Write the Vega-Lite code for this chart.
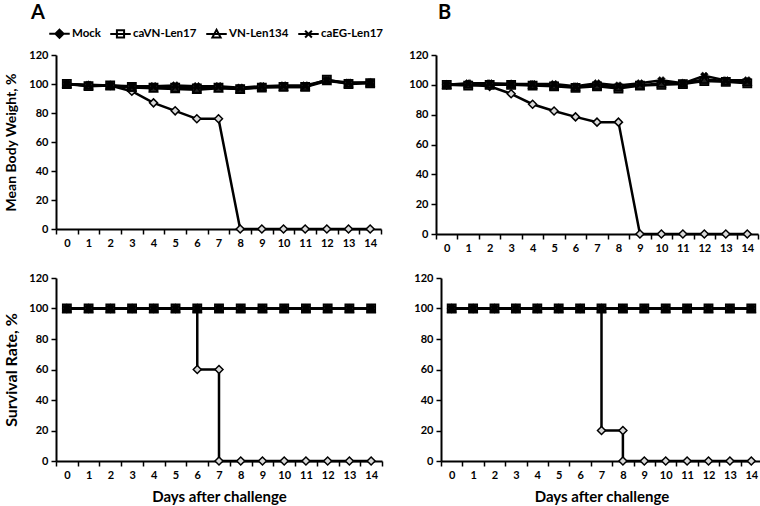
{
  "$schema": "https://vega.github.io/schema/vega-lite/v6.json",
  "background": "white",
  "padding": {"left": 3, "top": 3, "right": 2, "bottom": 2},
  "config": {
    "font": "Lato",
    "view": {"stroke": null},
    "axis": {
      "labelFont": "Lato", "labelFontWeight": "bold", "labelFontSize": 11, "labelColor": "black",
      "domainColor": "black", "domainWidth": 2, "tickColor": "black", "tickWidth": 1.5, "tickSize": 5,
      "grid": false, "titleFont": "Lato", "titleFontWeight": "bold", "titleColor": "black", "titleFontSize": 15,
      "labelPadding": 3
    },
    "legend": {
      "title": null, "orient": "none", "legendX": -8, "legendY": -33, "direction": "horizontal", "columns": 4, "gridAlign": "each",
      "symbolSize": 420, "symbolStrokeWidth": 2, "symbolStrokeColor": "black", "symbolOpacity": 1,
      "labelFont": "Lato", "labelFontSize": 11.5, "labelFontWeight": "bold", "labelColor": "black", "labelOffset": 1, "columnPadding": 5
    },
    "title": {"font": "Lato", "fontWeight": "bold", "fontSize": 20, "color": "black", "anchor": "start", "frame": "group"}
  },
  "datasets": {
    "weight": [
      {"panel":"A","series":"Mock","day":0,"value":100},{"panel":"A","series":"Mock","day":1,"value":99},{"panel":"A","series":"Mock","day":2,"value":99},{"panel":"A","series":"Mock","day":3,"value":95},{"panel":"A","series":"Mock","day":4,"value":87},{"panel":"A","series":"Mock","day":5,"value":81.5},{"panel":"A","series":"Mock","day":6,"value":76},{"panel":"A","series":"Mock","day":7,"value":76},{"panel":"A","series":"Mock","day":8,"value":0},{"panel":"A","series":"Mock","day":9,"value":0},{"panel":"A","series":"Mock","day":10,"value":0},{"panel":"A","series":"Mock","day":11,"value":0},{"panel":"A","series":"Mock","day":12,"value":0},{"panel":"A","series":"Mock","day":13,"value":0},{"panel":"A","series":"Mock","day":14,"value":0},
      {"panel":"A","series":"caVN-Len17","day":0,"value":100},{"panel":"A","series":"caVN-Len17","day":1,"value":98.5},{"panel":"A","series":"caVN-Len17","day":2,"value":99},{"panel":"A","series":"caVN-Len17","day":3,"value":98},{"panel":"A","series":"caVN-Len17","day":4,"value":97.5},{"panel":"A","series":"caVN-Len17","day":5,"value":97.5},{"panel":"A","series":"caVN-Len17","day":6,"value":97},{"panel":"A","series":"caVN-Len17","day":7,"value":97.5},{"panel":"A","series":"caVN-Len17","day":8,"value":96.5},{"panel":"A","series":"caVN-Len17","day":9,"value":97.5},{"panel":"A","series":"caVN-Len17","day":10,"value":98},{"panel":"A","series":"caVN-Len17","day":11,"value":98},{"panel":"A","series":"caVN-Len17","day":12,"value":103},{"panel":"A","series":"caVN-Len17","day":13,"value":100},{"panel":"A","series":"caVN-Len17","day":14,"value":100.5},
      {"panel":"A","series":"VN-Len134","day":0,"value":100},{"panel":"A","series":"VN-Len134","day":1,"value":99},{"panel":"A","series":"VN-Len134","day":2,"value":99},{"panel":"A","series":"VN-Len134","day":3,"value":97.5},{"panel":"A","series":"VN-Len134","day":4,"value":97},{"panel":"A","series":"VN-Len134","day":5,"value":96.5},{"panel":"A","series":"VN-Len134","day":6,"value":96},{"panel":"A","series":"VN-Len134","day":7,"value":97},{"panel":"A","series":"VN-Len134","day":8,"value":96.5},{"panel":"A","series":"VN-Len134","day":9,"value":98},{"panel":"A","series":"VN-Len134","day":10,"value":98},{"panel":"A","series":"VN-Len134","day":11,"value":98},{"panel":"A","series":"VN-Len134","day":12,"value":102},{"panel":"A","series":"VN-Len134","day":13,"value":100.5},{"panel":"A","series":"VN-Len134","day":14,"value":101},
      {"panel":"A","series":"caEG-Len17","day":0,"value":100},{"panel":"A","series":"caEG-Len17","day":1,"value":99.5},{"panel":"A","series":"caEG-Len17","day":2,"value":99},{"panel":"A","series":"caEG-Len17","day":3,"value":98.5},{"panel":"A","series":"caEG-Len17","day":4,"value":98.5},{"panel":"A","series":"caEG-Len17","day":5,"value":99},{"panel":"A","series":"caEG-Len17","day":6,"value":98.5},{"panel":"A","series":"caEG-Len17","day":7,"value":98.5},{"panel":"A","series":"caEG-Len17","day":8,"value":97.5},{"panel":"A","series":"caEG-Len17","day":9,"value":98.5},{"panel":"A","series":"caEG-Len17","day":10,"value":99},{"panel":"A","series":"caEG-Len17","day":11,"value":99},{"panel":"A","series":"caEG-Len17","day":12,"value":102.5},{"panel":"A","series":"caEG-Len17","day":13,"value":101},{"panel":"A","series":"caEG-Len17","day":14,"value":101},
      {"panel":"B","series":"Mock","day":0,"value":100},{"panel":"B","series":"Mock","day":1,"value":100},{"panel":"B","series":"Mock","day":2,"value":99},{"panel":"B","series":"Mock","day":3,"value":94},{"panel":"B","series":"Mock","day":4,"value":87},{"panel":"B","series":"Mock","day":5,"value":82.5},{"panel":"B","series":"Mock","day":6,"value":78.5},{"panel":"B","series":"Mock","day":7,"value":75},{"panel":"B","series":"Mock","day":8,"value":75},{"panel":"B","series":"Mock","day":9,"value":0},{"panel":"B","series":"Mock","day":10,"value":0},{"panel":"B","series":"Mock","day":11,"value":0},{"panel":"B","series":"Mock","day":12,"value":0},{"panel":"B","series":"Mock","day":13,"value":0},{"panel":"B","series":"Mock","day":14,"value":0},
      {"panel":"B","series":"caVN-Len17","day":0,"value":100},{"panel":"B","series":"caVN-Len17","day":1,"value":99.5},{"panel":"B","series":"caVN-Len17","day":2,"value":100},{"panel":"B","series":"caVN-Len17","day":3,"value":100},{"panel":"B","series":"caVN-Len17","day":4,"value":99.5},{"panel":"B","series":"caVN-Len17","day":5,"value":99},{"panel":"B","series":"caVN-Len17","day":6,"value":98},{"panel":"B","series":"caVN-Len17","day":7,"value":99},{"panel":"B","series":"caVN-Len17","day":8,"value":97.5},{"panel":"B","series":"caVN-Len17","day":9,"value":99.5},{"panel":"B","series":"caVN-Len17","day":10,"value":100},{"panel":"B","series":"caVN-Len17","day":11,"value":100.5},{"panel":"B","series":"caVN-Len17","day":12,"value":102.5},{"panel":"B","series":"caVN-Len17","day":13,"value":102},{"panel":"B","series":"caVN-Len17","day":14,"value":101},
      {"panel":"B","series":"VN-Len134","day":0,"value":100},{"panel":"B","series":"VN-Len134","day":1,"value":100.5},{"panel":"B","series":"VN-Len134","day":2,"value":100.5},{"panel":"B","series":"VN-Len134","day":3,"value":100.5},{"panel":"B","series":"VN-Len134","day":4,"value":100},{"panel":"B","series":"VN-Len134","day":5,"value":99.5},{"panel":"B","series":"VN-Len134","day":6,"value":98.5},{"panel":"B","series":"VN-Len134","day":7,"value":99.5},{"panel":"B","series":"VN-Len134","day":8,"value":98.5},{"panel":"B","series":"VN-Len134","day":9,"value":99.5},{"panel":"B","series":"VN-Len134","day":10,"value":101},{"panel":"B","series":"VN-Len134","day":11,"value":101},{"panel":"B","series":"VN-Len134","day":12,"value":103.5},{"panel":"B","series":"VN-Len134","day":13,"value":102.5},{"panel":"B","series":"VN-Len134","day":14,"value":102},
      {"panel":"B","series":"caEG-Len17","day":0,"value":100},{"panel":"B","series":"caEG-Len17","day":1,"value":101},{"panel":"B","series":"caEG-Len17","day":2,"value":101},{"panel":"B","series":"caEG-Len17","day":3,"value":100.5},{"panel":"B","series":"caEG-Len17","day":4,"value":100.5},{"panel":"B","series":"caEG-Len17","day":5,"value":100.5},{"panel":"B","series":"caEG-Len17","day":6,"value":99},{"panel":"B","series":"caEG-Len17","day":7,"value":101},{"panel":"B","series":"caEG-Len17","day":8,"value":99.5},{"panel":"B","series":"caEG-Len17","day":9,"value":101},{"panel":"B","series":"caEG-Len17","day":10,"value":103},{"panel":"B","series":"caEG-Len17","day":11,"value":101},{"panel":"B","series":"caEG-Len17","day":12,"value":106},{"panel":"B","series":"caEG-Len17","day":13,"value":103},{"panel":"B","series":"caEG-Len17","day":14,"value":103}
    ],
    "survival": [
      {"panel":"A","series":"Mock","step":0,"day":0,"value":100},{"panel":"A","series":"Mock","step":1,"day":1,"value":100},{"panel":"A","series":"Mock","step":2,"day":2,"value":100},{"panel":"A","series":"Mock","step":3,"day":3,"value":100},{"panel":"A","series":"Mock","step":4,"day":4,"value":100},{"panel":"A","series":"Mock","step":5,"day":5,"value":100},{"panel":"A","series":"Mock","step":6,"day":6,"value":100},{"panel":"A","series":"Mock","step":7,"day":6,"value":60},{"panel":"A","series":"Mock","step":8,"day":7,"value":60},{"panel":"A","series":"Mock","step":9,"day":7,"value":0},{"panel":"A","series":"Mock","step":10,"day":8,"value":0},{"panel":"A","series":"Mock","step":11,"day":9,"value":0},{"panel":"A","series":"Mock","step":12,"day":10,"value":0},{"panel":"A","series":"Mock","step":13,"day":11,"value":0},{"panel":"A","series":"Mock","step":14,"day":12,"value":0},{"panel":"A","series":"Mock","step":15,"day":13,"value":0},{"panel":"A","series":"Mock","step":16,"day":14,"value":0},
      {"panel":"A","series":"caVN-Len17","step":0,"day":0,"value":100},{"panel":"A","series":"caVN-Len17","step":1,"day":1,"value":100},{"panel":"A","series":"caVN-Len17","step":2,"day":2,"value":100},{"panel":"A","series":"caVN-Len17","step":3,"day":3,"value":100},{"panel":"A","series":"caVN-Len17","step":4,"day":4,"value":100},{"panel":"A","series":"caVN-Len17","step":5,"day":5,"value":100},{"panel":"A","series":"caVN-Len17","step":6,"day":6,"value":100},{"panel":"A","series":"caVN-Len17","step":7,"day":7,"value":100},{"panel":"A","series":"caVN-Len17","step":8,"day":8,"value":100},{"panel":"A","series":"caVN-Len17","step":9,"day":9,"value":100},{"panel":"A","series":"caVN-Len17","step":10,"day":10,"value":100},{"panel":"A","series":"caVN-Len17","step":11,"day":11,"value":100},{"panel":"A","series":"caVN-Len17","step":12,"day":12,"value":100},{"panel":"A","series":"caVN-Len17","step":13,"day":13,"value":100},{"panel":"A","series":"caVN-Len17","step":14,"day":14,"value":100},
      {"panel":"A","series":"VN-Len134","step":0,"day":0,"value":100},{"panel":"A","series":"VN-Len134","step":1,"day":1,"value":100},{"panel":"A","series":"VN-Len134","step":2,"day":2,"value":100},{"panel":"A","series":"VN-Len134","step":3,"day":3,"value":100},{"panel":"A","series":"VN-Len134","step":4,"day":4,"value":100},{"panel":"A","series":"VN-Len134","step":5,"day":5,"value":100},{"panel":"A","series":"VN-Len134","step":6,"day":6,"value":100},{"panel":"A","series":"VN-Len134","step":7,"day":7,"value":100},{"panel":"A","series":"VN-Len134","step":8,"day":8,"value":100},{"panel":"A","series":"VN-Len134","step":9,"day":9,"value":100},{"panel":"A","series":"VN-Len134","step":10,"day":10,"value":100},{"panel":"A","series":"VN-Len134","step":11,"day":11,"value":100},{"panel":"A","series":"VN-Len134","step":12,"day":12,"value":100},{"panel":"A","series":"VN-Len134","step":13,"day":13,"value":100},{"panel":"A","series":"VN-Len134","step":14,"day":14,"value":100},
      {"panel":"A","series":"caEG-Len17","step":0,"day":0,"value":100},{"panel":"A","series":"caEG-Len17","step":1,"day":1,"value":100},{"panel":"A","series":"caEG-Len17","step":2,"day":2,"value":100},{"panel":"A","series":"caEG-Len17","step":3,"day":3,"value":100},{"panel":"A","series":"caEG-Len17","step":4,"day":4,"value":100},{"panel":"A","series":"caEG-Len17","step":5,"day":5,"value":100},{"panel":"A","series":"caEG-Len17","step":6,"day":6,"value":100},{"panel":"A","series":"caEG-Len17","step":7,"day":7,"value":100},{"panel":"A","series":"caEG-Len17","step":8,"day":8,"value":100},{"panel":"A","series":"caEG-Len17","step":9,"day":9,"value":100},{"panel":"A","series":"caEG-Len17","step":10,"day":10,"value":100},{"panel":"A","series":"caEG-Len17","step":11,"day":11,"value":100},{"panel":"A","series":"caEG-Len17","step":12,"day":12,"value":100},{"panel":"A","series":"caEG-Len17","step":13,"day":13,"value":100},{"panel":"A","series":"caEG-Len17","step":14,"day":14,"value":100},
      {"panel":"B","series":"Mock","step":0,"day":0,"value":100},{"panel":"B","series":"Mock","step":1,"day":1,"value":100},{"panel":"B","series":"Mock","step":2,"day":2,"value":100},{"panel":"B","series":"Mock","step":3,"day":3,"value":100},{"panel":"B","series":"Mock","step":4,"day":4,"value":100},{"panel":"B","series":"Mock","step":5,"day":5,"value":100},{"panel":"B","series":"Mock","step":6,"day":6,"value":100},{"panel":"B","series":"Mock","step":7,"day":7,"value":100},{"panel":"B","series":"Mock","step":8,"day":7,"value":20},{"panel":"B","series":"Mock","step":9,"day":8,"value":20},{"panel":"B","series":"Mock","step":10,"day":8,"value":0},{"panel":"B","series":"Mock","step":11,"day":9,"value":0},{"panel":"B","series":"Mock","step":12,"day":10,"value":0},{"panel":"B","series":"Mock","step":13,"day":11,"value":0},{"panel":"B","series":"Mock","step":14,"day":12,"value":0},{"panel":"B","series":"Mock","step":15,"day":13,"value":0},{"panel":"B","series":"Mock","step":16,"day":14,"value":0},
      {"panel":"B","series":"caVN-Len17","step":0,"day":0,"value":100},{"panel":"B","series":"caVN-Len17","step":1,"day":1,"value":100},{"panel":"B","series":"caVN-Len17","step":2,"day":2,"value":100},{"panel":"B","series":"caVN-Len17","step":3,"day":3,"value":100},{"panel":"B","series":"caVN-Len17","step":4,"day":4,"value":100},{"panel":"B","series":"caVN-Len17","step":5,"day":5,"value":100},{"panel":"B","series":"caVN-Len17","step":6,"day":6,"value":100},{"panel":"B","series":"caVN-Len17","step":7,"day":7,"value":100},{"panel":"B","series":"caVN-Len17","step":8,"day":8,"value":100},{"panel":"B","series":"caVN-Len17","step":9,"day":9,"value":100},{"panel":"B","series":"caVN-Len17","step":10,"day":10,"value":100},{"panel":"B","series":"caVN-Len17","step":11,"day":11,"value":100},{"panel":"B","series":"caVN-Len17","step":12,"day":12,"value":100},{"panel":"B","series":"caVN-Len17","step":13,"day":13,"value":100},{"panel":"B","series":"caVN-Len17","step":14,"day":14,"value":100},
      {"panel":"B","series":"VN-Len134","step":0,"day":0,"value":100},{"panel":"B","series":"VN-Len134","step":1,"day":1,"value":100},{"panel":"B","series":"VN-Len134","step":2,"day":2,"value":100},{"panel":"B","series":"VN-Len134","step":3,"day":3,"value":100},{"panel":"B","series":"VN-Len134","step":4,"day":4,"value":100},{"panel":"B","series":"VN-Len134","step":5,"day":5,"value":100},{"panel":"B","series":"VN-Len134","step":6,"day":6,"value":100},{"panel":"B","series":"VN-Len134","step":7,"day":7,"value":100},{"panel":"B","series":"VN-Len134","step":8,"day":8,"value":100},{"panel":"B","series":"VN-Len134","step":9,"day":9,"value":100},{"panel":"B","series":"VN-Len134","step":10,"day":10,"value":100},{"panel":"B","series":"VN-Len134","step":11,"day":11,"value":100},{"panel":"B","series":"VN-Len134","step":12,"day":12,"value":100},{"panel":"B","series":"VN-Len134","step":13,"day":13,"value":100},{"panel":"B","series":"VN-Len134","step":14,"day":14,"value":100},
      {"panel":"B","series":"caEG-Len17","step":0,"day":0,"value":100},{"panel":"B","series":"caEG-Len17","step":1,"day":1,"value":100},{"panel":"B","series":"caEG-Len17","step":2,"day":2,"value":100},{"panel":"B","series":"caEG-Len17","step":3,"day":3,"value":100},{"panel":"B","series":"caEG-Len17","step":4,"day":4,"value":100},{"panel":"B","series":"caEG-Len17","step":5,"day":5,"value":100},{"panel":"B","series":"caEG-Len17","step":6,"day":6,"value":100},{"panel":"B","series":"caEG-Len17","step":7,"day":7,"value":100},{"panel":"B","series":"caEG-Len17","step":8,"day":8,"value":100},{"panel":"B","series":"caEG-Len17","step":9,"day":9,"value":100},{"panel":"B","series":"caEG-Len17","step":10,"day":10,"value":100},{"panel":"B","series":"caEG-Len17","step":11,"day":11,"value":100},{"panel":"B","series":"caEG-Len17","step":12,"day":12,"value":100},{"panel":"B","series":"caEG-Len17","step":13,"day":13,"value":100},{"panel":"B","series":"caEG-Len17","step":14,"day":14,"value":100}
    ]
  },
  "spacing": 19,
  "vconcat": [
    {
      "spacing": 26,
      "hconcat": [
        {
          "width": 325, "height": 174,
          "title": {"text": "A", "dx": -25, "offset": 26},
          "data": {"name": "weight"},
          "transform": [{"filter": "datum.panel === 'A'"}],
          "encoding": {
            "x": {"field": "day", "type": "ordinal", "scale": {"type": "band", "paddingInner": 0, "paddingOuter": 0}, "axis": {"title": null, "labelAngle": 0, "tickBand": "extent"}},
            "y": {"field": "value", "type": "quantitative", "scale": {"domain": [0, 120], "nice": false}, "axis": {"values": [0, 20, 40, 60, 80, 100, 120], "title": "Mean Body Weight, %", "titleFontSize": 14, "titlePadding": 10}}
          },
          "layer": [
            {
              "mark": {"type": "point", "filled": true, "size": 420, "opacity": 0},
              "encoding": {
                "shape": {"field": "series", "type": "nominal", "scale": {"domain": ["Mock", "caVN-Len17", "VN-Len134", "caEG-Len17"], "range": ["M-1,0H1M0,-0.4L0.4,0L0,0.4L-0.4,0Z", "M-1,0H1M-0.35,-0.35H0.35V0.35H-0.35Z", "M-1,0H1M0,-0.42L0.4,0.32H-0.4Z", "M-1,0H1M-0.33,-0.33L0.33,0.33M-0.33,0.33L0.33,-0.33"]}},
                "fill": {"field": "series", "type": "nominal", "scale": {"domain": ["Mock", "caVN-Len17", "VN-Len134", "caEG-Len17"], "range": ["black", "white", "white", "black"]}},
                "stroke": {"field": "series", "type": "nominal", "scale": {"domain": ["Mock", "caVN-Len17", "VN-Len134", "caEG-Len17"], "range": ["black", "black", "black", "black"]}}
              }
            },
            {"mark": {"type": "line", "color": "black", "strokeWidth": 2.5}, "encoding": {"detail": {"field": "series"}, "order": {"field": "day"}}},
            {"transform": [{"filter": "datum.series === 'Mock'"}], "mark": {"type": "point", "shape": "diamond", "filled": true, "fill": "#d9d9d9", "stroke": "black", "strokeWidth": 1.5, "size": 64, "opacity": 1}},
            {"transform": [{"filter": "datum.series === 'caVN-Len17'"}], "mark": {"type": "point", "shape": "square", "filled": true, "fill": "#222", "stroke": "black", "strokeWidth": 1.5, "size": 70, "opacity": 1}},
            {"transform": [{"filter": "datum.series === 'VN-Len134'"}], "mark": {"type": "point", "shape": "triangle-up", "filled": false, "stroke": "black", "strokeWidth": 1.5, "size": 60, "opacity": 1}},
            {"transform": [{"filter": "datum.series === 'caEG-Len17'"}], "mark": {"type": "point", "shape": "cross", "angle": 45, "filled": true, "fill": "black", "stroke": "black", "strokeWidth": 0.5, "size": 60, "opacity": 1}}
          ]
        },
        {
          "width": 322, "height": 179,
          "title": {"text": "B", "dx": 2, "offset": 26},
          "data": {"name": "weight"},
          "transform": [{"filter": "datum.panel === 'B'"}],
          "encoding": {
            "x": {"field": "day", "type": "ordinal", "scale": {"type": "band", "paddingInner": 0, "paddingOuter": 0}, "axis": {"title": null, "labelAngle": 0, "tickBand": "extent"}},
            "y": {"field": "value", "type": "quantitative", "scale": {"domain": [0, 120], "nice": false}, "axis": {"values": [0, 20, 40, 60, 80, 100, 120], "title": null}}
          },
          "layer": [
            {"mark": {"type": "line", "color": "black", "strokeWidth": 2.5}, "encoding": {"detail": {"field": "series"}, "order": {"field": "day"}}},
            {"transform": [{"filter": "datum.series === 'Mock'"}], "mark": {"type": "point", "shape": "diamond", "filled": true, "fill": "#d9d9d9", "stroke": "black", "strokeWidth": 1.5, "size": 64, "opacity": 1}},
            {"transform": [{"filter": "datum.series === 'caVN-Len17'"}], "mark": {"type": "point", "shape": "square", "filled": true, "fill": "#222", "stroke": "black", "strokeWidth": 1.5, "size": 70, "opacity": 1}},
            {"transform": [{"filter": "datum.series === 'VN-Len134'"}], "mark": {"type": "point", "shape": "triangle-up", "filled": false, "stroke": "black", "strokeWidth": 1.5, "size": 60, "opacity": 1}},
            {"transform": [{"filter": "datum.series === 'caEG-Len17'"}], "mark": {"type": "point", "shape": "cross", "angle": 45, "filled": true, "fill": "black", "stroke": "black", "strokeWidth": 0.5, "size": 60, "opacity": 1}}
          ]
        }
      ]
    },
    {
      "spacing": 30,
      "hconcat": [
        {
          "width": 326, "height": 183,
          "data": {"name": "survival"},
          "transform": [{"filter": "datum.panel === 'A'"}],
          "encoding": {
            "x": {"field": "day", "type": "ordinal", "scale": {"type": "band", "paddingInner": 0, "paddingOuter": 0}, "axis": {"title": "Days after challenge", "titlePadding": 9, "labelAngle": 0, "tickBand": "extent"}},
            "y": {"field": "value", "type": "quantitative", "scale": {"domain": [0, 120], "nice": false}, "axis": {"values": [0, 20, 40, 60, 80, 100, 120], "title": "Survival Rate, %", "titleFontSize": 16, "titlePadding": 9}}
          },
          "layer": [
            {"mark": {"type": "line", "color": "black", "strokeWidth": 2.5}, "encoding": {"detail": {"field": "series"}, "order": {"field": "step"}}},
            {"transform": [{"filter": "datum.series === 'Mock'"}], "mark": {"type": "point", "shape": "diamond", "filled": true, "fill": "#d9d9d9", "stroke": "black", "strokeWidth": 1.5, "size": 64, "opacity": 1}},
            {"transform": [{"filter": "datum.series === 'caVN-Len17'"}], "mark": {"type": "point", "shape": "square", "filled": true, "fill": "#222", "stroke": "black", "strokeWidth": 1.5, "size": 70, "opacity": 1}},
            {"transform": [{"filter": "datum.series === 'VN-Len134'"}], "mark": {"type": "point", "shape": "triangle-up", "filled": false, "stroke": "black", "strokeWidth": 1.5, "size": 60, "opacity": 1}},
            {"transform": [{"filter": "datum.series === 'caEG-Len17'"}], "mark": {"type": "point", "shape": "cross", "angle": 45, "filled": true, "fill": "black", "stroke": "black", "strokeWidth": 0.5, "size": 60, "opacity": 1}}
          ]
        },
        {
          "width": 321, "height": 183,
          "data": {"name": "survival"},
          "transform": [{"filter": "datum.panel === 'B'"}],
          "encoding": {
            "x": {"field": "day", "type": "ordinal", "scale": {"type": "band", "paddingInner": 0, "paddingOuter": 0}, "axis": {"title": "Days after challenge", "titlePadding": 9, "labelAngle": 0, "tickBand": "extent"}},
            "y": {"field": "value", "type": "quantitative", "scale": {"domain": [0, 120], "nice": false}, "axis": {"values": [0, 20, 40, 60, 80, 100, 120], "title": null}}
          },
          "layer": [
            {"mark": {"type": "line", "color": "black", "strokeWidth": 2.5}, "encoding": {"detail": {"field": "series"}, "order": {"field": "step"}}},
            {"transform": [{"filter": "datum.series === 'Mock'"}], "mark": {"type": "point", "shape": "diamond", "filled": true, "fill": "#d9d9d9", "stroke": "black", "strokeWidth": 1.5, "size": 64, "opacity": 1}},
            {"transform": [{"filter": "datum.series === 'caVN-Len17'"}], "mark": {"type": "point", "shape": "square", "filled": true, "fill": "#222", "stroke": "black", "strokeWidth": 1.5, "size": 70, "opacity": 1}},
            {"transform": [{"filter": "datum.series === 'VN-Len134'"}], "mark": {"type": "point", "shape": "triangle-up", "filled": false, "stroke": "black", "strokeWidth": 1.5, "size": 60, "opacity": 1}},
            {"transform": [{"filter": "datum.series === 'caEG-Len17'"}], "mark": {"type": "point", "shape": "cross", "angle": 45, "filled": true, "fill": "black", "stroke": "black", "strokeWidth": 0.5, "size": 60, "opacity": 1}}
          ]
        }
      ]
    }
  ]
}
